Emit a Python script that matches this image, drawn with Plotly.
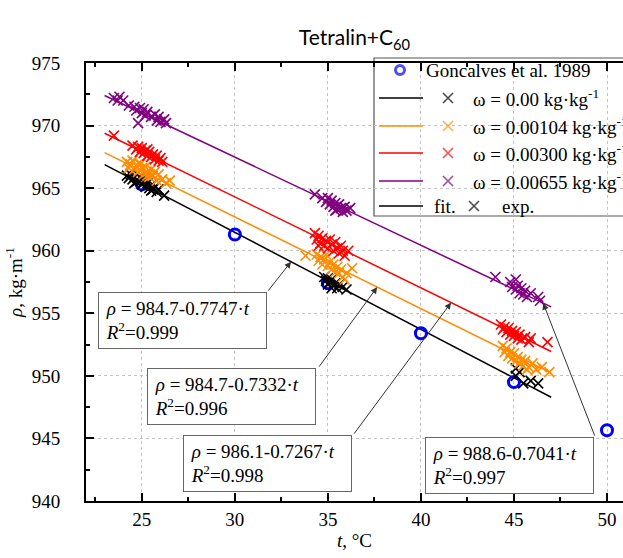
import plotly.graph_objects as go

# ---------------- data ----------------
ref_t = [25, 30, 35, 40, 45, 50]
ref_rho = [965.3, 961.3, 957.4, 953.4, 949.5, 945.65]
ref_name = "Goncalves et al. 1989"

series_names = [
    "ω = 0.00 kg·kg<sup>-1</sup>",
    "ω = 0.00104 kg·kg<sup>-1</sup>",
    "ω = 0.00300 kg·kg<sup>-1</sup>",
    "ω = 0.00655 kg·kg<sup>-1</sup>",
]
colors = ["#000000", "#FF8C00", "#FF0000", "#800080"]

fit_a = [984.7, 984.7, 986.1, 988.6]
fit_b = [0.7747, 0.7332, 0.7267, 0.7041]
fit_r2 = ["0.999", "0.996", "0.998", "0.997"]
fit_t_start = 23.0
fit_t_end = 47.0

exp0_t = [24.2, 24.3, 24.4, 24.5, 24.6, 24.7, 24.8, 24.9, 25.0, 25.1, 25.2, 25.3, 25.4, 25.5,
          25.6, 25.7, 25.8, 25.9, 26.2, 24.6, 25.0, 25.5,
          34.8, 34.9, 35.0, 35.0, 35.1, 35.2, 35.3, 35.4, 35.5, 35.6, 35.8, 36.0, 35.2,
          45.1, 45.1, 45.5, 45.9, 46.3, 45.3]
exp0_rho = [966.0, 965.8, 966.1, 965.7, 965.9, 965.5, 965.6, 965.9, 965.3, 965.5, 965.1, 965.4, 965.0, 965.2,
            964.9, 965.1, 964.7, 964.9, 964.4, 965.4, 965.7, 964.8,
            957.9, 957.6, 957.8, 957.3, 957.5, 957.7, 957.2, 957.4, 957.0, 957.3, 957.1, 956.9, 957.0,
            950.6, 950.0, 949.4, 949.6, 949.4, 950.3]

exp1_t = [24.2, 24.3, 24.4, 24.5, 24.6, 24.7, 24.8, 24.9, 25.0, 25.1, 25.2, 25.3, 25.4, 25.5,
          25.6, 25.7, 25.8, 25.9, 26.1, 26.3, 26.5, 24.9, 25.3,
          33.8, 34.4, 34.5, 34.6, 34.7, 34.8, 34.9, 35.0, 35.1, 35.2, 35.3, 35.4, 35.5, 35.6,
          35.7, 35.8, 36.0, 36.3, 35.9,
          44.4, 44.5, 44.6, 44.7, 44.8, 44.9, 45.0, 45.1, 45.2, 45.3, 45.4, 45.5, 45.6, 45.8,
          46.0, 46.2, 46.5, 46.9, 45.7]
exp1_rho = [967.1, 966.6, 966.9, 967.2, 966.5, 966.8, 966.3, 966.9, 966.6, 966.1, 966.7, 966.3, 965.9, 966.5,
            966.0, 966.3, 965.6, 966.1, 965.7, 965.4, 965.6, 967.0, 966.0,
            959.6, 959.7, 959.2, 959.5, 958.9, 959.3, 959.7, 958.8, 959.1, 958.5, 958.9, 958.3, 958.7, 958.2,
            958.5, 957.9, 958.2, 958.6, 957.7,
            952.4, 951.9, 952.2, 951.6, 951.9, 951.4, 951.8, 951.2, 951.5, 951.0, 951.3, 950.8, 951.2, 950.7,
            951.0, 950.5, 950.7, 950.3, 950.5]

exp2_t = [23.5, 24.5, 24.7, 24.8, 24.9, 25.0, 25.1, 25.2, 25.3, 25.4, 25.5, 25.6, 25.7, 25.8,
          25.9, 26.0, 26.1, 25.3,
          34.3, 34.4, 34.5, 34.6, 34.7, 34.8, 34.9, 35.0, 35.1, 35.2, 35.3, 35.4, 35.5, 35.6,
          35.7, 35.8, 35.9, 36.1, 34.5,
          44.3, 44.4, 44.5, 44.6, 44.7, 44.8, 44.9, 45.0, 45.1, 45.2, 45.3, 45.4, 45.6, 45.8,
          45.9, 46.8]
exp2_rho = [969.2, 968.4, 968.1, 968.3, 967.9, 968.2, 967.8, 968.0, 967.6, 967.9, 967.5, 967.7, 967.3, 967.6,
            967.2, 967.4, 967.1, 968.1,
            961.4, 960.9, 961.2, 960.6, 961.0, 960.4, 960.8, 960.2, 960.9, 960.5, 960.0, 960.7, 960.2, 959.8,
            960.4, 960.0, 959.6, 960.0, 960.4,
            954.1, 953.7, 953.9, 953.5, 953.8, 953.3, 953.6, 953.2, 953.5, 953.0, 953.3, 952.9, 953.1, 952.7,
            953.0, 952.7]

exp3_t = [23.5, 23.7, 23.8, 24.0, 24.3, 24.6, 24.7, 24.8, 24.9, 25.0, 25.1, 25.2, 25.3, 25.5,
          25.7, 25.8, 25.9, 26.0, 26.2, 26.3,
          34.3, 34.7, 34.9, 35.0, 35.1, 35.2, 35.3, 35.4, 35.5, 35.6, 35.7, 35.8, 35.9, 36.0,
          36.2, 35.4,
          44.0, 44.8, 44.9, 45.1, 45.1, 45.2, 45.3, 45.4, 45.5, 45.6, 45.7, 45.9, 46.3, 46.4]
exp3_rho = [972.2, 972.0, 972.3, 972.0, 971.6, 971.5, 971.2, 970.2, 971.4, 971.0, 971.3, 970.8, 971.1, 970.7,
            970.9, 970.4, 970.7, 970.3, 970.5, 970.2,
            964.5, 964.2, 963.9, 964.2, 963.7, 964.0, 963.5, 963.8, 963.3, 963.7, 963.4, 963.1, 963.5, 963.2,
            963.4, 963.2,
            957.9, 957.5, 957.1, 957.7, 956.9, 957.2, 956.6, 957.0, 956.5, 956.8, 956.3, 956.6, 956.3, 956.0]

exp_t = [exp0_t, exp1_t, exp2_t, exp3_t]
exp_rho = [exp0_rho, exp1_rho, exp2_rho, exp3_rho]

# ---------------- layout constants ----------------
SERIF = "Liberation Serif"
FS = 19
X_RANGE = [22.0, 50.86]
Y_RANGE = [940, 975]

# arrow tips (t on fitted line) and arrow tails (data coords, at box corners)
arrow_tip_t = [33.02, 37.65, 41.62, 46.57]
arrow_tail = [(31.73, 956.69), (34.47, 950.62), (36.35, 945.26), (49.37, 945.1)]
box_pos = [(0.0223, 0.477), (0.1136, 0.3037), (0.1806, 0.1507), (0.6313, 0.1461)]

fig = go.Figure()

# fitted lines
for a, b, c in zip(fit_a, fit_b, colors):
    fig.add_trace(go.Scatter(
        x=[fit_t_start, fit_t_end], y=[a - b * fit_t_start, a - b * fit_t_end],
        mode="lines", line=dict(color=c, width=1.5), showlegend=False, hoverinfo="skip"))

# reference data
fig.add_trace(go.Scatter(
    x=ref_t, y=ref_rho, mode="markers", name=ref_name, showlegend=False,
    marker=dict(symbol="circle-open", size=11, color="#0000FF", line=dict(width=3, color="#0000FF"))))

# experimental points
for t, r, c, n in zip(exp_t, exp_rho, colors, series_names):
    fig.add_trace(go.Scatter(
        x=t, y=r, mode="markers", name=n, showlegend=False,
        marker=dict(symbol="x-thin", size=10, color=c, line=dict(width=1.6, color=c))))

# ---------------- custom legend ----------------
def px_x(p):
    return (p - 86) / 537.0

def px_y(p):
    return (501 - p) / 438.0

shapes = []
annotations = []
shapes.append(dict(type="rect", xref="paper", yref="paper",
                   x0=px_x(374), x1=px_x(640), y0=px_y(216), y1=px_y(58),
                   line=dict(color="#555555", width=1.2), fillcolor="white", layer="between"))

rows_y = [70, 98, 126, 153, 181, 206]
leg_mk_x, leg_mk_y, leg_mk_c, leg_mk_s = [], [], [], []

# row 1 : reference
leg_mk_x.append(px_x(400)); leg_mk_y.append(px_y(rows_y[0])); leg_mk_c.append("#0000FF"); leg_mk_s.append("circle-open")
annotations.append(dict(xref="paper", yref="paper", x=px_x(424), y=px_y(rows_y[0]), xanchor="left",
                        yanchor="middle", text=ref_name, showarrow=False,
                        font=dict(family=SERIF, size=FS, color="black")))
# rows 2-5 : series
for i, (c, n) in enumerate(zip(colors, series_names)):
    yy = rows_y[i + 1]
    shapes.append(dict(type="line", xref="paper", yref="paper", x0=px_x(379), x1=px_x(423),
                       y0=px_y(yy), y1=px_y(yy), line=dict(color=c, width=1.5), layer="above"))
    leg_mk_x.append(px_x(448)); leg_mk_y.append(px_y(yy)); leg_mk_c.append(c); leg_mk_s.append("x-thin")
    annotations.append(dict(xref="paper", yref="paper", x=px_x(471), y=px_y(yy), xanchor="left",
                            yanchor="middle", text=n, showarrow=False,
                            font=dict(family=SERIF, size=FS, color="black")))
# row 6 : fit / exp
yy = rows_y[5]
shapes.append(dict(type="line", xref="paper", yref="paper", x0=px_x(379), x1=px_x(423),
                   y0=px_y(yy), y1=px_y(yy), line=dict(color="black", width=1.5), layer="above"))
annotations.append(dict(xref="paper", yref="paper", x=px_x(432), y=px_y(yy), xanchor="left",
                        yanchor="middle", text="fit.", showarrow=False,
                        font=dict(family=SERIF, size=FS, color="black")))
leg_mk_x.append(px_x(474)); leg_mk_y.append(px_y(yy)); leg_mk_c.append("black"); leg_mk_s.append("x-thin")
annotations.append(dict(xref="paper", yref="paper", x=px_x(500), y=px_y(yy), xanchor="left",
                        yanchor="middle", text="exp.", showarrow=False,
                        font=dict(family=SERIF, size=FS, color="black")))

fig.add_trace(go.Scatter(
    x=leg_mk_x, y=leg_mk_y, xaxis="x2", yaxis="y2", mode="markers", showlegend=False, hoverinfo="skip",
    marker=dict(symbol=leg_mk_s, size=[9, 10, 10, 10, 10, 10], color=leg_mk_c,
                line=dict(width=[3, 1.6, 1.6, 1.6, 1.6, 1.6], color=leg_mk_c))))

# ---------------- equation boxes and arrows ----------------
for (a, b, r2, tip_t, tail, bp) in zip(fit_a, fit_b, fit_r2, arrow_tip_t, arrow_tail, box_pos):
    txt = ("&nbsp;<i>ρ</i> = %s-%s·<i>t</i><br>&nbsp;<i>R</i><sup>2</sup>=%s" % (("%.1f" % a), ("%.4f" % b), r2))
    annotations.append(dict(xref="paper", yref="paper", x=bp[0], y=bp[1], xanchor="left", yanchor="top",
                            text=txt, showarrow=False, align="left", width=161, height=49,
                            borderpad=3, bordercolor="#666666", borderwidth=1, bgcolor="white",
                            font=dict(family=SERIF, size=FS, color="black")))
    annotations.append(dict(xref="x", yref="y", x=tip_t, y=a - b * tip_t, axref="x", ayref="y",
                            ax=tail[0], ay=tail[1], text="", showarrow=True, arrowhead=2,
                            arrowsize=1.3, arrowwidth=1, arrowcolor="#333333", standoff=0))

fig.update_layout(
    width=623, height=558,
    margin=dict(l=86, r=0, t=63, b=57),
    paper_bgcolor="white", plot_bgcolor="white",
    showlegend=False,
    font=dict(family=SERIF, size=FS, color="black"),
    title=dict(text="Tetralin+C<sub>60</sub>", x=0.5, xref="paper", xanchor="center",
               y=1 - 38 / 558, yref="container", yanchor="middle",
               font=dict(family="Lato", size=21, color="black")),
    xaxis=dict(range=X_RANGE, showline=True, linecolor="black", linewidth=2, mirror="allticks",
               ticks="inside", ticklen=8, tickwidth=1.5, tickcolor="black", dtick=5, tick0=0,
               minor=dict(ticks="inside", ticklen=4, tickwidth=1.5, tickcolor="black", dtick=2.5, showgrid=False),
               showgrid=True, gridcolor="#c4c4c4", griddash="3px,3px", gridwidth=1, zeroline=False,
               tickfont=dict(family=SERIF, size=FS, color="black"), ticklabelstandoff=0,
               title=dict(text="<i>t</i>, °C", standoff=2, font=dict(family=SERIF, size=FS, color="black"))),
    yaxis=dict(range=Y_RANGE, showline=True, linecolor="black", linewidth=2, mirror=False,
               ticks="inside", ticklen=8, tickwidth=1.5, tickcolor="black", dtick=5, tick0=0,
               minor=dict(ticks="inside", ticklen=4, tickwidth=1.5, tickcolor="black", dtick=2.5, showgrid=False),
               showgrid=True, gridcolor="#c4c4c4", griddash="3px,3px", gridwidth=1, zeroline=False,
               tickfont=dict(family=SERIF, size=FS, color="black"), ticklabelstandoff=20,
               title=dict(text="<i>ρ</i>, kg·m<sup>-1</sup>", standoff=4,
                          font=dict(family=SERIF, size=FS, color="black"))),
    xaxis2=dict(range=[0, 1], overlaying="x", visible=False, fixedrange=True),
    yaxis2=dict(range=[0, 1], overlaying="y", visible=False, fixedrange=True),
    shapes=shapes,
    annotations=annotations,
)

fig.write_html("out.html")
